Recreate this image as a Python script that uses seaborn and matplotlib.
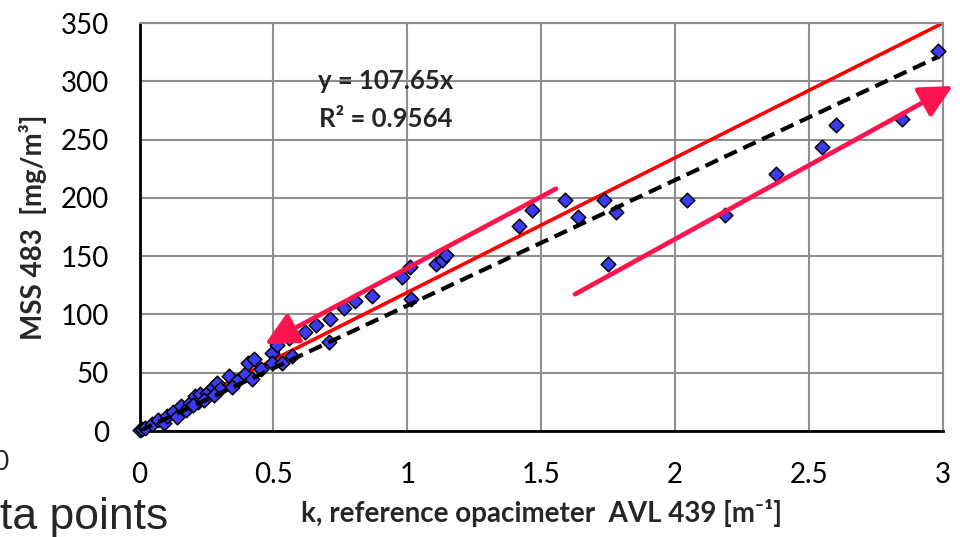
import matplotlib
matplotlib.use("Agg")
import matplotlib.pyplot as plt
import seaborn as sns
import numpy as np
import pandas as pd

# ---- data ----
k_values = [0.0, 0.01, 0.02, 0.045, 0.07, 0.09, 0.104, 0.126, 0.139, 0.154,
            0.174, 0.188, 0.207, 0.219, 0.226, 0.253, 0.273, 0.29, 0.30, 0.335,
            0.363, 0.394, 0.406, 0.427, 0.452, 0.493, 0.493, 0.531, 0.568, 0.512,
            0.559, 0.618, 0.659, 0.711, 0.763, 0.804, 0.869, 0.707, 0.981, 1.009,
            1.012, 1.106, 1.128, 1.146, 1.417, 1.467, 1.589, 1.636, 1.733, 1.778,
            1.749, 2.045, 2.185, 2.375, 2.549, 2.599, 2.846, 2.981,
            0.24, 0.28, 0.20, 0.345, 0.42]
mss_values = [1.0, 2.0, 3.0, 5.7, 9.4, 7.1, 12.8, 16.5, 11.7, 21.4,
              18.0, 24.2, 30.0, 25.1, 31.7, 32.3, 37.9, 41.4, 35.7, 47.1,
              43.1, 48.8, 58.5, 61.4, 52.8, 66.5, 58.5, 58.0, 64.2, 73.6,
              79.4, 85.0, 91.3, 96.2, 105.6, 111.3, 115.9, 76.5, 132.1, 140.7,
              113.6, 143.6, 146.4, 150.7, 175.5, 189.8, 197.8, 183.5, 198.4, 187.8,
              143.6, 197.8, 184.9, 220.6, 244.0, 262.8, 267.7, 326.2,
              27.0, 31.0, 22.0, 38.0, 45.0]

trend_slope = 107.65
r_squared = 0.9564
trend_x = [0.0, 2.981]

x_ticks = [0, 0.5, 1, 1.5, 2, 2.5, 3]
x_tick_labels = ["0", "0.5", "1", "1.5", "2", "2.5", "3"]
y_ticks = [0, 50, 100, 150, 200, 250, 300, 350]
y_tick_labels = ["0", "50", "100", "150", "200", "250", "300", "350"]

# annotation guide lines (hand-drawn overlays in the original)
upper_bound_x = [0.30, 3.0]
upper_bound_y = [38.0, 350.0]
arrow_left_start = (1.555, 207.8)
arrow_left_end = (0.468, 74.5)
arrow_right_start = (1.626, 117.3)
arrow_right_end = (3.037, 296.0)

df = pd.DataFrame({"k": k_values, "mss": mss_values})
trend_df = pd.DataFrame({"k": trend_x, "mss": [trend_slope * v for v in trend_x]})

# ---- figure ----
sns.set_style("white")
plt.rcParams["font.family"] = ["Lato", "DejaVu Sans"]

fig = plt.figure(figsize=(9.6, 5.37), dpi=100)
ax = fig.add_axes([139.5 / 960, 1 - 431 / 537, (943 - 139.5) / 960, (431 - 23) / 537])

ax.set_xlim(0, 3)
ax.set_ylim(0, 350)
ax.set_xticks(x_ticks)
ax.set_xticklabels(x_tick_labels)
ax.set_yticks(y_ticks)
ax.set_yticklabels(y_tick_labels)
ax.grid(True, color="#8f8f8f", lw=1.5)
ax.set_axisbelow(True)
for s in ["top", "right"]:
    ax.spines[s].set_color("#8f8f8f")
    ax.spines[s].set_linewidth(1.5)
for s in ["left", "bottom"]:
    ax.spines[s].set_color("black")
    ax.spines[s].set_linewidth(2)
ax.tick_params(axis="both", length=0, labelsize=20, colors="black")
ax.tick_params(axis="x", pad=22)
ax.tick_params(axis="y", pad=22)

# upper bound red line
ax.plot(upper_bound_x, upper_bound_y, color="#ff0000", lw=2.6, zorder=2,
        solid_capstyle="butt", clip_on=False)

# trend line
sns.lineplot(data=trend_df, x="k", y="mss", ax=ax, color="black", lw=3,
             dashes=False, zorder=4)
ax.lines[-1].set_dashes((3.3, 1.7))
ax.lines[-1].set_dash_capstyle("butt")

# data points
sns.scatterplot(data=df, x="k", y="mss", ax=ax, marker="D", s=55,
                color="#3b3bf5", edgecolor="black", linewidth=1.1, zorder=3,
                clip_on=False)

# arrows
arrow_color = "#ff1450"
for start, end in [(arrow_left_start, arrow_left_end),
                   (arrow_right_start, arrow_right_end)]:
    ax.annotate("", xy=end, xytext=start,
                arrowprops=dict(arrowstyle="-|>,head_length=1.0,head_width=0.5",
                                color=arrow_color, lw=3.4, mutation_scale=20,
                                shrinkA=0, shrinkB=0), zorder=5,
                annotation_clip=False)

# equation text
ax.text(0.92, 300, f"y = {trend_slope:.2f}x", fontsize=18.5, fontweight="bold",
        ha="center", va="center", zorder=6)
ax.text(0.92, 268, f"R² = {r_squared:.4f}", fontsize=18.5, fontweight="bold",
        ha="center", va="center", zorder=6)

ax.set_xlabel("k, reference opacimeter  AVL 439 [m⁻¹]", fontsize=20,
              fontweight="bold", labelpad=8)
ax.set_ylabel("MSS 483  [mg/m³]", fontsize=20, fontweight="bold", labelpad=10)

# fragments of surrounding slide text
fig.text(1 / 960, 1 - 462 / 537, "0", fontsize=19, ha="center", va="center")
fig.text(0 / 960, 1 - 518 / 537, "ta points", fontsize=32, ha="left", va="center",
         family=["Liberation Sans", "DejaVu Sans"])

fig.savefig("out.png", dpi=100)
